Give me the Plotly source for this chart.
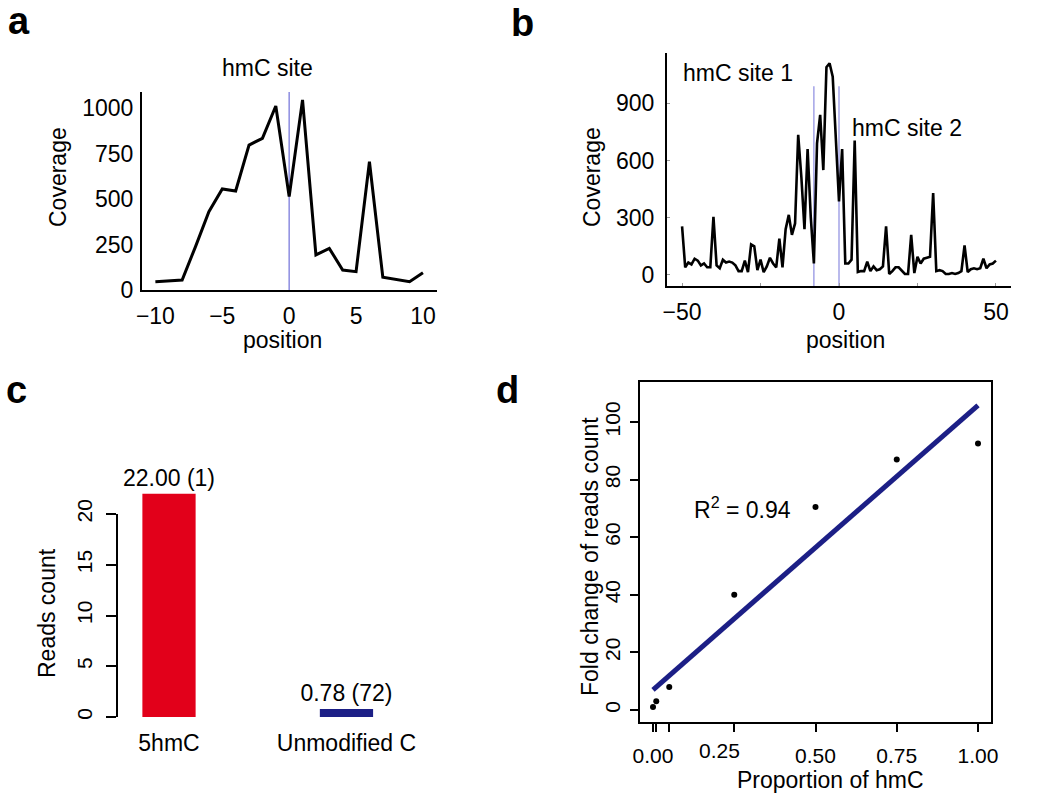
import numpy as np
import plotly.graph_objects as go

# ---------------- data ----------------
# panel a: coverage around one hmC site
pos_a = list(range(-10, 11))
cov_a = [46, 51, 55, 239, 431, 556, 545, 798, 835, 1013, 514, 1046,
         193, 229, 110, 101, 706, 70, 59, 46, 95]
site_a = [0]

# panel b: coverage around two hmC sites
pos_b = list(range(-50, 51))
cov_b = [255, 40, 65, 55, 85, 75, 50, 60, 40, 40,
         305, 50, 35, 80, 65, 70, 65, 50, 20, 20,
         75, 15, 160, 150, 25, 80, 15, 45, 90, 60,
         40, 190, 40, 240, 315, 210, 270, 735, 515, 240,
         660, 305, 60, 690, 840, 550, 1090, 1110, 1040, 740,
         385, 660, 60, 60, 80, 705, 15, 20, 20, 70,
         20, 45, 25, 30, 45, 255, 5, 20, 40, 40,
         20, 5, 5, 210, 10, 95, 60, 85, 90, 95,
         430, 20, 25, 20, 5, 5, 10, 5, 10, 20,
         155, 15, 30, 35, 30, 35, 85, 35, 55, 60, 75]
sites_b = [-8, 0]

# panel c: reads count per site type
cats_c = ["5hmC", "Unmodified C"]
reads_c = [22.00, 0.78]
nsites_c = [1, 72]

# panel d: fold change vs proportion of hmC
prop_d = [0.0, 0.01, 0.05, 0.25, 0.50, 0.75, 1.00]
fold_d = [1.0, 3.0, 8.0, 40.0, 70.5, 87.0, 92.5]

# tick labels
xt_a = [-10, -5, 0, 5, 10]
yt_a = [0, 250, 500, 750, 1000]
xt_b = [-50, -25, 0, 25, 50]
yt_b = [0, 300, 600, 900]
yt_c = [0, 5, 10, 15, 20]
xt_d = [0.0, 0.01, 0.05, 0.25, 0.50, 0.75, 1.00]
xl_d = [0.0, 0.50, 0.75, 1.00]
yt_d = [0, 20, 40, 60, 80, 100]

# ---------------- figure ----------------
W, H = 1050, 796
FONT = "Liberation Sans, Arial, Helvetica, sans-serif"
BLUE_SITE = "#8c8ce0"
RED = "#e2001a"
NAVY = "#1c1f86"
FS = 23     # titles / tick labels
FS2 = 21    # tick labels in c, d


def px(x):
    return x / W


def py(y):
    return 1 - y / H


def minus(v):
    return f"{v:g}".replace("-", "\u2212")


fig = go.Figure()

# a
fig.add_trace(go.Scatter(x=pos_a, y=cov_a, mode="lines", xaxis="x", yaxis="y",
                         line=dict(color="black", width=3), showlegend=False))
# b
fig.add_trace(go.Scatter(x=pos_b, y=cov_b, mode="lines", xaxis="x2", yaxis="y2",
                         line=dict(color="black", width=2.6), showlegend=False))
# c
fig.add_trace(go.Bar(x=[0, 1], y=reads_c, xaxis="x3", yaxis="y3", width=0.3,
                     marker=dict(color=[RED, NAVY], line=dict(width=0)),
                     text=[f"{r:.2f} ({n})" for r, n in zip(reads_c, nsites_c)],
                     textposition="outside", constraintext="none", cliponaxis=False,
                     textfont=dict(size=FS, color="black", family=FONT),
                     showlegend=False))
# d
slope, intercept = np.polyfit(prop_d, fold_d, 1)
pred = np.polyval([slope, intercept], prop_d)
ss_res = float(np.sum((np.array(fold_d) - pred) ** 2))
ss_tot = float(np.sum((np.array(fold_d) - np.mean(fold_d)) ** 2))
r2 = 1 - ss_res / ss_tot
fig.add_trace(go.Scatter(x=[min(prop_d), max(prop_d)],
                         y=[intercept + slope * min(prop_d), intercept + slope * max(prop_d)],
                         mode="lines", xaxis="x4", yaxis="y4",
                         line=dict(color=NAVY, width=5), showlegend=False))
fig.add_trace(go.Scatter(x=prop_d, y=fold_d, mode="markers", xaxis="x4", yaxis="y4",
                         marker=dict(color="black", size=6), showlegend=False))

base_ax = dict(showgrid=False, zeroline=False, color="black", fixedrange=True,
               automargin=False,
               tickfont=dict(size=FS, color="black", family=FONT))

layout = dict(
    width=W, height=H, autosize=False, margin=dict(l=0, r=0, t=0, b=0, pad=0, autoexpand=False),
    paper_bgcolor="white", plot_bgcolor="white",
    font=dict(family=FONT, color="black", size=FS),
    showlegend=False, dragmode=False,
    xaxis=dict(base_ax, domain=[px(142), px(437)], range=[-11, 11.05], anchor="y",
               showline=True, linecolor="black", linewidth=2, ticks="",
               tickvals=xt_a, ticktext=[minus(v) for v in xt_a], ticklabelstandoff=4),
    yaxis=dict(base_ax, domain=[py(290), py(92)], range=[0, 1090], anchor="x",
               showline=True, linecolor="black", linewidth=2, ticks="",
               tickvals=yt_a, ticktext=[str(v) for v in yt_a], ticklabelstandoff=2),
    xaxis2=dict(base_ax, domain=[px(667), px(1011)], range=[-54.8, 54.8], anchor="y2",
                showline=True, linecolor="black", linewidth=2, ticks="inside",
                ticklen=3, tickwidth=1, tickcolor="#999999",
                tickvals=xt_b, ticktext=[minus(v) if v % 50 == 0 else " " for v in xt_b],
                ticklabelstandoff=4),
    yaxis2=dict(base_ax, domain=[py(286), py(53)], range=[-58, 1164], anchor="x2",
                showline=True, linecolor="black", linewidth=2, ticks="inside",
                ticklen=3, tickwidth=1, tickcolor="#999999",
                tickvals=yt_b, ticktext=[str(v) for v in yt_b], ticklabelstandoff=6),
    xaxis3=dict(base_ax, domain=[px(117), px(440)], range=[-0.293, 1.527], anchor="y3",
                showline=False, ticks="", tickvals=[0, 1], ticktext=cats_c,
                ticklabelstandoff=10),
    yaxis3=dict(base_ax, domain=[py(717), py(473.4)], range=[0, 24], anchor="x3",
                showline=False, ticks="outside", ticklen=10, tickwidth=2, tickcolor="black",
                tickvals=yt_c, ticktext=[str(v) for v in yt_c], tickangle=-90,
                tickfont=dict(size=FS2, color="black", family=FONT), ticklabelstandoff=6),
    xaxis4=dict(base_ax, domain=[px(640), px(991)], range=[-0.04, 1.04], anchor="y4",
                showline=True, mirror=True, linecolor="black", linewidth=2,
                ticks="outside", ticklen=8, tickwidth=1.5, tickcolor="black", tickangle=0,
                tickvals=xt_d, ticktext=[f"{v:.2f}" if v in xl_d else " " for v in xt_d],
                tickfont=dict(size=FS2, color="black", family=FONT), ticklabelstandoff=6),
    yaxis4=dict(base_ax, domain=[py(722), py(382)], range=[-4.17, 113.9], anchor="x4",
                showline=True, mirror=True, linecolor="black", linewidth=2,
                ticks="outside", ticklen=8, tickwidth=1.5, tickcolor="black",
                tickvals=yt_d, ticktext=[str(v) for v in yt_d], tickangle=-90,
                tickfont=dict(size=FS2, color="black", family=FONT), ticklabelstandoff=2),
)
fig.update_layout(**layout)

shapes = []
for s in site_a:
    shapes.append(dict(type="line", xref="x", yref="y domain", x0=s, x1=s, y0=0, y1=1,
                       line=dict(color=BLUE_SITE, width=1.5), layer="below"))
for s in sites_b:
    shapes.append(dict(type="line", xref="x2", yref="y2", x0=s, x1=s, y0=-58, y1=990,
                       line=dict(color=BLUE_SITE, width=1.2), layer="below"))
# R-style y axis line for panel c (only spans the tick range)
shapes.append(dict(type="line", xref="paper", yref="y3", x0=px(117), x1=px(117),
                   y0=yt_c[0], y1=yt_c[-1], line=dict(color="black", width=2)))
fig.update_layout(shapes=shapes)

ann = []


def txt(x, y, t, size=FS, angle=0, bold=False):
    ann.append(dict(x=px(x), y=py(y), xref="paper", yref="paper",
                    text=(f"<b>{t}</b>" if bold else t),
                    showarrow=False, textangle=angle, xanchor="center", yanchor="middle",
                    font=dict(size=size, color="black", family=FONT)))


# panel letters
txt(19, 21, "a", size=38, bold=True)
txt(522, 23, "b", size=38, bold=True)
txt(16, 390, "c", size=38, bold=True)
txt(507, 390, "d", size=38, bold=True)
# panel a
txt(267, 68, "hmC site")
txt(58, 177, "Coverage", angle=-90)
txt(282, 340, "position")
# panel b
txt(738, 73, "hmC site 1")
txt(907, 128, "hmC site 2")
txt(592, 177, "Coverage", angle=-90)
txt(845, 340, "position")
# panel c
txt(47, 613, "Reads count", angle=-90)
# panel d
txt(590, 557, "Fold change of reads count", angle=-90)
txt(830, 780, "Proportion of hmC")
ann.append(dict(x=0.205, y=py(750), xref="x4", yref="paper", text=f"{0.25:.2f}",
                showarrow=False, xanchor="center", yanchor="middle",
                font=dict(size=FS2, color="black", family=FONT)))
ann.append(dict(x=0.275, y=70, xref="x4", yref="y4", text=f"R<sup>2</sup> = {r2:.2f}",
                showarrow=False, xanchor="center", yanchor="middle",
                font=dict(size=FS, color="black", family=FONT)))
fig.update_layout(annotations=ann)

fig.write_html("out.html", config={"responsive": False, "displayModeBar": False},
               post_script="document.body.style.margin='0';")
